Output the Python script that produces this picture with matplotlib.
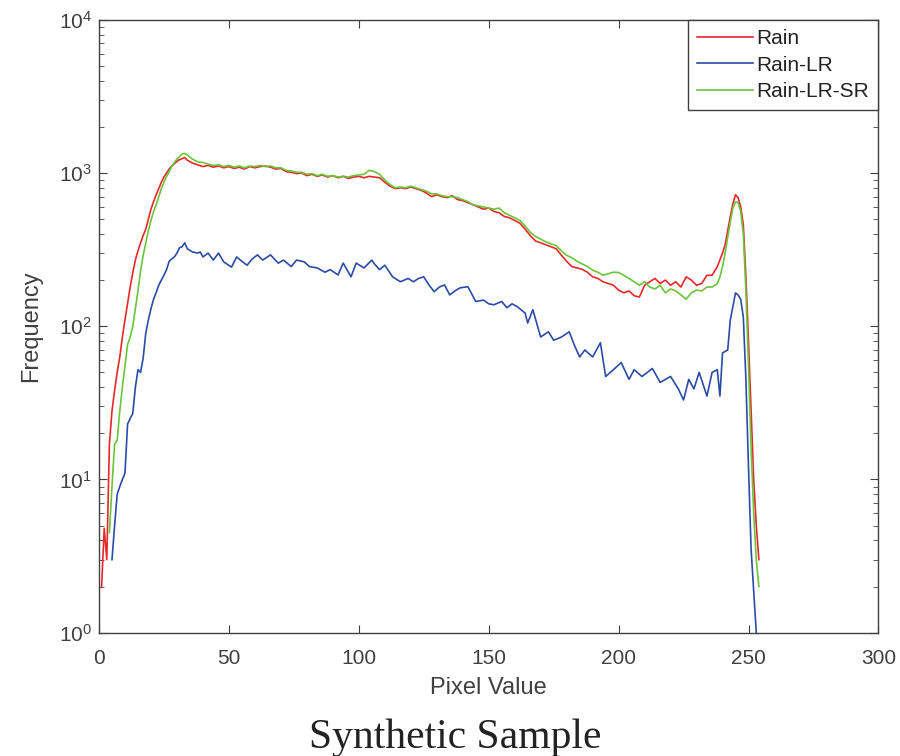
import matplotlib

matplotlib.use("Agg")
import matplotlib.pyplot as plt
from matplotlib.ticker import LogLocator, MultipleLocator, NullFormatter

plt.rcParams["font.family"] = ["Liberation Sans", "DejaVu Sans"]
plt.rcParams["mathtext.fontset"] = "custom"
plt.rcParams["mathtext.rm"] = "Liberation Sans"
plt.rcParams["mathtext.it"] = "Liberation Sans"

# histogram values (pixel value -> frequency)
rain_x = [1, 2, 3, 4, 5, 6, 7, 8, 9, 10, 11, 12, 13, 14, 15, 16, 17, 18, 19, 20,
          21, 22, 23, 24, 25, 26, 27, 28, 29, 30, 31, 32, 33,
          34, 36, 38, 40, 42, 44, 46, 48, 50, 52, 54, 56, 58, 60, 62, 64, 66, 68,
          70, 72, 74, 76, 78, 80, 82, 84, 86, 88, 90, 92, 94, 96, 98, 100, 102,
          104, 106, 108, 110, 112, 114, 116, 118, 120, 122, 124, 126, 128, 130,
          132, 134, 136, 138, 140, 142, 144, 146, 148, 150, 152, 154, 156, 158,
          160, 162, 164, 166, 168, 170, 172, 174, 176, 178, 180, 182, 184, 186,
          188, 190, 192, 194, 196, 198, 200, 202, 204, 206, 208, 210, 212, 214,
          216, 218, 220, 222, 224, 226, 228, 230, 232, 234, 236, 238, 240, 241,
          242, 243, 244, 245, 246, 247, 248, 249, 250, 251, 252, 253, 254]
rain_y = [2.0, 4.8, 3.0, 17, 28, 38, 50, 63, 85, 110, 140, 180, 223, 270, 310, 350,
          390, 430, 500, 580, 650, 720, 790, 870, 940, 1000, 1060, 1110, 1150,
          1190, 1220, 1240, 1260,
          1210, 1160, 1130, 1100, 1120, 1090, 1110, 1080, 1100, 1070, 1090, 1060,
          1100, 1080, 1100, 1110, 1090, 1060, 1070, 1020, 1010, 990, 1000, 960,
          980, 950, 970, 940, 960, 930, 950, 920, 940, 950, 930, 950, 940, 930,
          870, 820, 790, 800, 790, 810, 790, 770, 740, 700, 720, 700, 690, 710,
          670, 660, 640, 620, 600, 580, 590, 560, 550, 520, 510, 490, 470, 430,
          390, 360, 350, 340, 330, 320, 290, 265, 245, 240, 235, 225, 210, 205,
          195, 190, 185, 172, 165, 170, 158, 155, 185, 195, 205, 190, 200, 185,
          195, 180, 210, 200, 185, 190, 215, 215, 245, 300, 340, 420, 520, 630,
          720, 690, 600, 460, 210, 80, 28, 10, 5, 3]

lr_x = [5, 6, 7, 8, 9, 10, 11, 12, 13, 14, 15, 16, 17, 18, 19, 20, 21, 22, 23, 24,
        25, 26, 27, 28, 29, 30, 31, 32, 33, 34, 36, 38, 39, 40, 42, 44, 46, 48,
        51, 53, 55, 57, 59, 61, 63, 66, 69, 71, 74, 76, 79, 81, 84, 87, 89, 92,
        94, 97, 99, 102, 105, 106, 108, 110, 113, 116, 119, 121, 123, 125, 127,
        129, 131, 133, 135, 137, 139, 142, 145, 148, 150, 152, 155, 157, 159,
        161, 164, 165, 167, 170, 173, 175, 178, 181, 183, 185, 187, 190, 193,
        195, 198, 201, 204, 206, 209, 213, 216, 220, 223, 225, 227, 229, 231,
        234, 236, 238, 239, 240, 242, 243, 245, 246, 247, 248, 249, 250, 251, 253]
lr_y = [3, 5, 8, 9, 10, 11, 23, 25, 27, 40, 52, 50, 62, 90, 110, 130, 150, 166,
        185, 200, 215, 234, 265, 275, 283, 300, 325, 330, 350, 320, 305, 300, 305,
        283, 300, 270, 300, 263, 243, 283, 265, 250, 275, 292, 270, 292, 258, 270,
        245, 270, 263, 245, 240, 225, 234, 216, 258, 210, 258, 240, 270, 255, 234,
        250, 210, 195, 205, 195, 205, 210, 186, 168, 180, 186, 160, 170, 178, 181,
        145, 148, 140, 138, 145, 132, 140, 134, 122, 105, 128, 85, 92, 81, 85, 92,
        75, 63, 70, 63, 78, 47, 52, 58, 45, 52, 47, 53, 43, 47, 39, 33, 45, 39, 50,
        35, 50, 52, 35, 67, 70, 110, 165, 160, 150, 115, 45, 12, 3.5, 1.0]

sr_x = [4, 5, 6, 7, 8, 9, 10, 11, 12, 13, 14, 15, 16, 17, 18, 19, 20, 21, 22, 23,
        24, 25, 26, 27, 28, 29, 30, 31, 32, 33,
        34, 36, 38, 40, 42, 44, 46, 48, 50, 52, 54, 56, 58, 60, 62, 64, 66, 68,
        70, 72, 74, 76, 78, 80, 82, 84, 86, 88, 90, 92, 94, 96, 98, 100, 102,
        104, 106, 108, 110, 112, 114, 116, 118, 120, 122, 124, 126, 128, 130,
        132, 134, 136, 138, 140, 142, 144, 146, 148, 150, 152, 154, 156, 158,
        160, 162, 164, 166, 168, 170, 172, 174, 176, 178, 180, 182, 184, 186,
        188, 190, 192, 194, 196, 198, 200, 202, 204, 206, 208, 210, 212, 214,
        216, 218, 220, 222, 224, 226, 228, 230, 232, 234, 236, 238, 239, 240,
        241, 242, 243, 244, 245, 246, 247, 248, 249, 250, 251, 252, 253, 254]
sr_y = [4.5, 9, 17, 18, 28, 40, 55, 76, 85, 100, 130, 170, 230, 290, 350, 420,
        490, 560, 620, 700, 790, 870, 950, 1020, 1100, 1170, 1230, 1280, 1330, 1340,
        1310, 1230, 1180, 1170, 1140, 1120, 1130, 1100, 1120, 1090, 1110, 1080,
        1110, 1100, 1120, 1100, 1110, 1080, 1080, 1040, 1030, 1010, 1010, 980,
        990, 960, 980, 950, 960, 940, 950, 940, 960, 970, 980, 1040, 1020, 980,
        900, 840, 800, 810, 800, 820, 800, 780, 760, 730, 730, 710, 700, 700,
        690, 670, 650, 620, 610, 600, 590, 580, 590, 550, 530, 510, 490, 450,
        410, 385, 370, 355, 345, 335, 310, 290, 280, 265, 255, 245, 232, 225,
        215, 220, 225, 224, 215, 205, 195, 185, 195, 180, 175, 185, 165, 175,
        170, 160, 150, 165, 172, 170, 180, 180, 190, 210, 245, 300, 380, 480,
        590, 650, 640, 560, 400, 170, 55, 16, 6, 3, 2]

series = [("Rain", rain_x, rain_y, "#e8282b"),
          ("Rain-LR", lr_x, lr_y, "#2b4ca6"),
          ("Rain-LR-SR", sr_x, sr_y, "#6cc43a")]

fig = plt.figure(figsize=(9, 7.56), dpi=100)
ax = fig.add_axes([0.110, 0.163, 0.866, 0.811])
for name, xs, ys, col in series:
    ax.plot(xs, ys, color=col, lw=1.2, label=name)

ax.set_yscale("log")
ax.set_xlim(0, 300)
ax.set_ylim(1, 1e4)
ax.xaxis.set_major_locator(MultipleLocator(50))
ax.yaxis.set_major_locator(LogLocator(base=10, numticks=10))
ax.yaxis.set_minor_locator(LogLocator(base=10, subs=range(2, 10), numticks=10))
ax.yaxis.set_minor_formatter(NullFormatter())

grey = "#404040"
for sp in ax.spines.values():
    sp.set_color(grey)
    sp.set_linewidth(1.0)
ax.tick_params(which="both", direction="in", top=True, right=True, colors=grey,
               labelsize=15, labelcolor=grey)
ax.tick_params(which="major", length=6)
ax.tick_params(which="minor", length=3.5)
ax.tick_params(axis="x", pad=12)
ax.tick_params(axis="y", pad=5)

ax.set_xlabel("Pixel Value", fontsize=17, color=grey, labelpad=6)
ax.set_ylabel("Frequency", fontsize=17, color=grey, labelpad=12)

leg = ax.legend(loc="upper right", fontsize=15, handlelength=2.7,
                borderaxespad=0, fancybox=False, framealpha=1,
                edgecolor=grey, handletextpad=0.15, labelspacing=0.36,
                borderpad=0.45)
leg.get_frame().set_linewidth(1.0)
for t in leg.get_texts():
    t.set_color("#222222")

fig.text(0.506, 0.024, "Synthetic Sample", ha="center", va="center",
         fontsize=30, family=["Liberation Serif", "DejaVu Serif"], color="#222222")

fig.savefig("out.png", dpi=100)
